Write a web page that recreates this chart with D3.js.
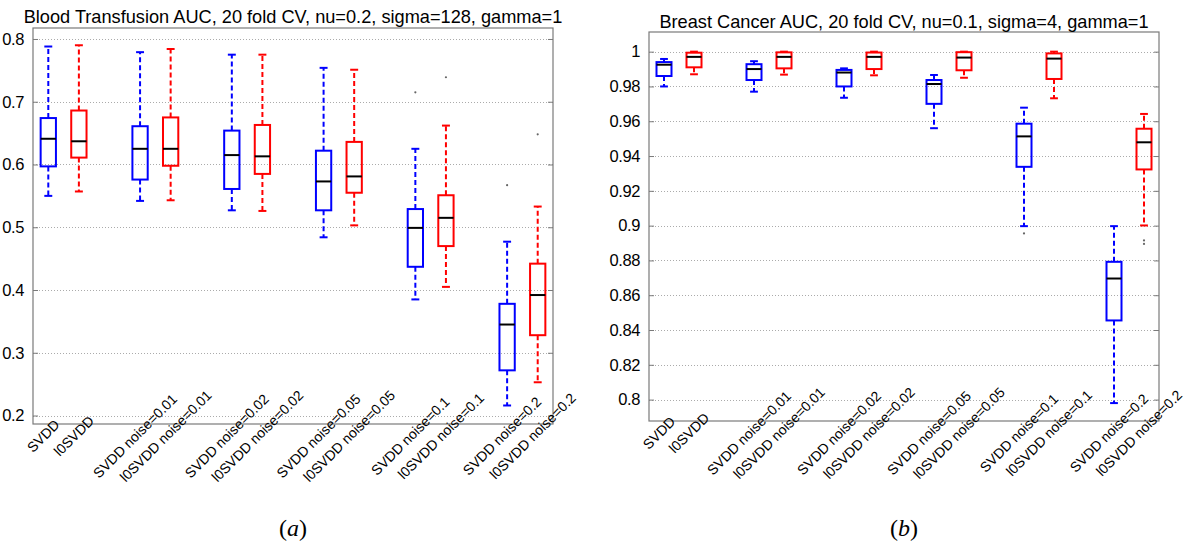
<!DOCTYPE html>
<html>
<head>
<meta charset="utf-8">
<script src="https://cdn.jsdelivr.net/npm/d3@7"></script>
<style>
  html, body { margin: 0; padding: 0; background: #fff; }
  svg { display: block; }
  text { font-family: "Liberation Sans", Arial, Helvetica, sans-serif; }
  text.caption { font-family: "Liberation Serif", "Times New Roman", serif; }
</style>
</head>
<body>
<svg id="chart" width="1185" height="547"></svg>
<script>
// Group labels and their slots on the x axis (gaps between pairs)
const categories = [
  "SVDD", "l0SVDD",
  "SVDD noise=0.01", "l0SVDD noise=0.01",
  "SVDD noise=0.02", "l0SVDD noise=0.02",
  "SVDD noise=0.05", "l0SVDD noise=0.05",
  "SVDD noise=0.1", "l0SVDD noise=0.1",
  "SVDD noise=0.2", "l0SVDD noise=0.2"
];
const positions = [1, 2, 4, 5, 7, 8, 10, 11, 13, 14, 16, 17];
const boxColors = ["#0000ff", "#ff0000", "#0000ff", "#ff0000", "#0000ff", "#ff0000",
                   "#0000ff", "#ff0000", "#0000ff", "#ff0000", "#0000ff", "#ff0000"];

// Blood Transfusion AUC summaries
const bloodLow     = [0.550, 0.557, 0.542, 0.543, 0.527, 0.526, 0.484, 0.503, 0.385, 0.405, 0.216, 0.253];
const bloodQ1      = [0.597, 0.611, 0.576, 0.598, 0.561, 0.585, 0.527, 0.555, 0.437, 0.470, 0.272, 0.328];
const bloodMedian  = [0.641, 0.637, 0.625, 0.625, 0.615, 0.613, 0.573, 0.581, 0.499, 0.515, 0.345, 0.392];
const bloodQ3      = [0.674, 0.686, 0.661, 0.675, 0.654, 0.663, 0.622, 0.636, 0.529, 0.551, 0.378, 0.442];
const bloodHigh    = [0.788, 0.790, 0.779, 0.784, 0.775, 0.775, 0.754, 0.751, 0.625, 0.662, 0.477, 0.533];
const bloodOutliers = [[], [], [], [], [], [], [], [], [0.715], [0.739], [0.567], [0.648]];
const bloodTicks = [0.2, 0.3, 0.4, 0.5, 0.6, 0.7, 0.8];

// Breast Cancer AUC summaries
const breastLow    = [0.9800, 0.9870, 0.9770, 0.9868, 0.9735, 0.9864, 0.9560, 0.9850, 0.8997, 0.9732, 0.7980, 0.9001];
const breastQ1     = [0.9860, 0.9910, 0.9837, 0.9904, 0.9800, 0.9900, 0.9700, 0.9893, 0.9338, 0.9843, 0.8455, 0.9323];
const breastMedian = [0.9925, 0.9970, 0.9900, 0.9970, 0.9880, 0.9970, 0.9814, 0.9966, 0.9513, 0.9960, 0.8696, 0.9479];
const breastQ3     = [0.9940, 0.9994, 0.9928, 0.9996, 0.9895, 0.9995, 0.9837, 0.9997, 0.9586, 0.9990, 0.8792, 0.9557];
const breastHigh   = [0.9958, 1.0000, 0.9945, 1.0000, 0.9904, 1.0000, 0.9866, 1.0000, 0.9678, 1.0000, 0.8997, 0.9642];
const breastOutliers = [[], [], [], [], [], [], [], [], [0.8955], [], [], [0.8915, 0.8895]];
const breastTicks = [0.8, 0.82, 0.84, 0.86, 0.88, 0.9, 0.92, 0.94, 0.96, 0.98, 1];

const svg = d3.select("#chart");

function drawPanel(opt) {
  const { left, right, top, bottom, yDomain, ticks, title, titleY,
          low, q1, median, q3, high, outliers, caption } = opt;

  const x = d3.scaleLinear().domain([0.5, 17.5]).range([left, right]);
  const y = d3.scaleLinear().domain(yDomain).range([bottom, top]);
  const unit = x(2) - x(1);
  const boxW = unit * 0.5;
  const capW = unit * 0.26;

  const g = svg.append("g");

  // dotted horizontal grid
  g.append("g").selectAll("line").data(ticks).join("line")
    .attr("x1", left).attr("x2", right)
    .attr("y1", d => Math.round(y(d)) + 0.5).attr("y2", d => Math.round(y(d)) + 0.5)
    .attr("stroke", "#ababab").attr("stroke-width", 1)
    .attr("stroke-dasharray", "1,2");

  // y axis with inward ticks and labels
  const yAxis = d3.axisLeft(y).tickValues(ticks).tickSize(-5).tickPadding(9)
    .tickFormat(d => d3.format("")(+d.toFixed(2)));
  const ya = g.append("g").attr("transform", `translate(${left},0)`).call(yAxis);
  ya.select(".domain").remove();
  ya.selectAll(".tick line").attr("stroke", "#7a7a7a");
  ya.selectAll(".tick text").attr("font-size", 16.5).attr("fill", "#000")
    .style("font-family", "'Liberation Sans', Arial, sans-serif")
    .style("letter-spacing", "-0.4px");

  // right-side inward ticks
  const yr = d3.axisRight(y).tickValues(ticks).tickSize(-5).tickFormat("");
  const yra = g.append("g").attr("transform", `translate(${right},0)`).call(yr);
  yra.select(".domain").remove();
  yra.selectAll(".tick line").attr("stroke", "#7a7a7a");

  // axes frame
  g.append("rect")
    .attr("x", left).attr("y", top)
    .attr("width", right - left).attr("height", bottom - top)
    .attr("fill", "none").attr("stroke", "#7a7a7a").attr("stroke-width", 1.2);

  // boxes
  const idx = d3.range(categories.length);
  const bg = g.append("g").selectAll("g").data(idx).join("g");

  // dashed whiskers
  bg.append("line")
    .attr("x1", i => x(positions[i])).attr("x2", i => x(positions[i]))
    .attr("y1", i => y(q3[i])).attr("y2", i => y(high[i]))
    .attr("stroke", i => boxColors[i]).attr("stroke-width", 2)
    .attr("stroke-dasharray", "5,3");
  bg.append("line")
    .attr("x1", i => x(positions[i])).attr("x2", i => x(positions[i]))
    .attr("y1", i => y(q1[i])).attr("y2", i => y(low[i]))
    .attr("stroke", i => boxColors[i]).attr("stroke-width", 2)
    .attr("stroke-dasharray", "5,3");
  // whisker caps
  bg.append("line")
    .attr("x1", i => x(positions[i]) - capW / 2).attr("x2", i => x(positions[i]) + capW / 2)
    .attr("y1", i => y(high[i])).attr("y2", i => y(high[i]))
    .attr("stroke", i => boxColors[i]).attr("stroke-width", 2);
  bg.append("line")
    .attr("x1", i => x(positions[i]) - capW / 2).attr("x2", i => x(positions[i]) + capW / 2)
    .attr("y1", i => y(low[i])).attr("y2", i => y(low[i]))
    .attr("stroke", i => boxColors[i]).attr("stroke-width", 2);
  // interquartile box
  bg.append("rect")
    .attr("x", i => x(positions[i]) - boxW / 2)
    .attr("y", i => y(q3[i]))
    .attr("width", boxW)
    .attr("height", i => y(q1[i]) - y(q3[i]))
    .attr("fill", "none")
    .attr("stroke", i => boxColors[i]).attr("stroke-width", 2);
  // median
  bg.append("line")
    .attr("x1", i => x(positions[i]) - boxW / 2).attr("x2", i => x(positions[i]) + boxW / 2)
    .attr("y1", i => y(median[i])).attr("y2", i => y(median[i]))
    .attr("stroke", "#000").attr("stroke-width", 2);
  // outliers
  bg.selectAll("circle").data(i => outliers[i].map(v => ({ i, v }))).join("circle")
    .attr("cx", d => x(positions[d.i]))
    .attr("cy", d => y(d.v))
    .attr("r", 1.1)
    .attr("fill", "#666");

  // rotated category labels
  g.append("g").selectAll("text").data(idx).join("text")
    .attr("transform", i => `translate(${x(positions[i]) - 5},${bottom + 12}) rotate(-45)`)
    .attr("text-anchor", "middle")
    .attr("dy", "0.35em")
    .attr("font-size", 14)
    .attr("fill", "#000")
    .text(i => categories[i]);

  // title
  g.append("text")
    .attr("x", (left + right) / 2).attr("y", titleY)
    .attr("text-anchor", "middle")
    .attr("font-size", 18.2)
    .attr("fill", "#000")
    .text(title);

  // panel caption
  const cap = g.append("text")
    .attr("class", "caption")
    .attr("x", (left + right) / 2).attr("y", 536)
    .attr("text-anchor", "middle")
    .attr("font-size", 24)
    .attr("fill", "#000");
  cap.append("tspan").text("(");
  cap.append("tspan").attr("font-style", "italic").text(caption);
  cap.append("tspan").text(")");
}

drawPanel({
  left: 33, right: 553, top: 28, bottom: 424,
  yDomain: [0.1865, 0.8175], ticks: bloodTicks,
  title: "Blood Transfusion AUC, 20 fold CV, nu=0.2, sigma=128, gamma=1", titleY: 23,
  low: bloodLow, q1: bloodQ1, median: bloodMedian, q3: bloodQ3, high: bloodHigh,
  outliers: bloodOutliers, caption: "a"
});

drawPanel({
  left: 649, right: 1159, top: 32, bottom: 421,
  yDomain: [0.7877, 1.0113], ticks: breastTicks,
  title: "Breast Cancer AUC, 20 fold CV, nu=0.1, sigma=4, gamma=1", titleY: 28,
  low: breastLow, q1: breastQ1, median: breastMedian, q3: breastQ3, high: breastHigh,
  outliers: breastOutliers, caption: "b"
});
</script>
</body>
</html>
